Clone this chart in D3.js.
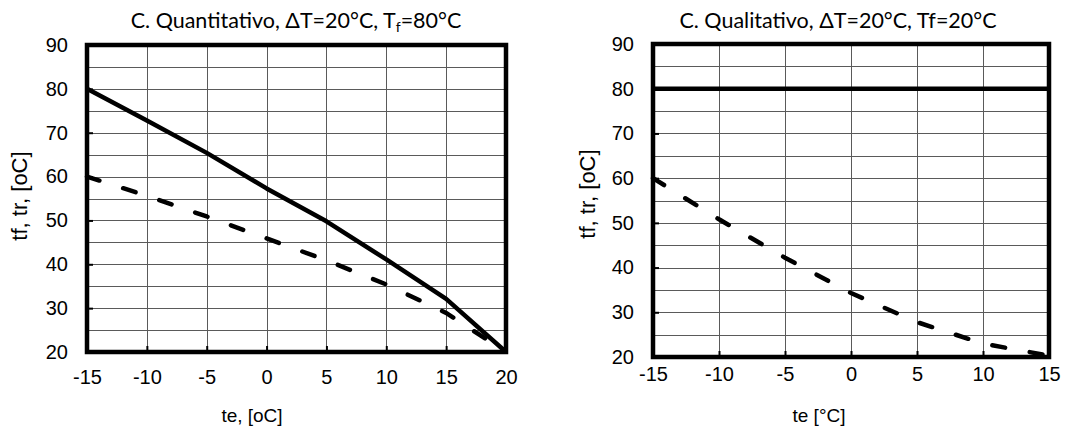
<!DOCTYPE html>
<html>
<head>
<meta charset="utf-8">
<script src="https://cdn.jsdelivr.net/npm/d3@7"></script>
<style>
  html, body { margin: 0; padding: 0; background: #fff; }
  svg { display: block; }
  .tick text { font-family: "Liberation Sans", Arial, sans-serif; font-size: 20px; fill: #000; }
  .title { font-family: Lato, "Open Sans", sans-serif; font-size: 21.5px; fill: #000; }
  .axis-label { font-family: "Liberation Sans", Arial, sans-serif; font-size: 19px; fill: #000; }
  .y-label { font-size: 22px; }
</style>
</head>
<body>
<svg id="chart" width="1071" height="436"></svg>
<script>
// Quantitative regulation: supply (tf) and return (tr) temperature vs outdoor temperature te
const teQuant = [-15, -10, -5, 0, 5, 10, 15, 20];
const tfQuant = [80, 72.8, 65.4, 57.3, 49.8, 41.1, 32.1, 20];
const trQuant = [60, 55.6, 50.9, 45.9, 40.9, 35.4, 28.9, 20];

// Qualitative regulation: supply stays constant, return drops
const teQual = [-15, -10, -5, 0, 5, 10, 15];
const tfQual = [80, 80, 80, 80, 80, 80, 80];
const trQual = [60, 50.8, 42.2, 34.3, 27.8, 23.0, 20.3];

const xTicksQuant = [-15, -10, -5, 0, 5, 10, 15, 20];
const xTicksQual = [-15, -10, -5, 0, 5, 10, 15];
const yTicks = [20, 30, 40, 50, 60, 70, 80, 90];
const yGrid = [25, 30, 35, 40, 45, 50, 55, 60, 65, 70, 75, 80, 85];

const svg = d3.select("#chart");
const plain = d => String(d);

function panel(cfg) {
  const x = d3.scaleLinear().domain(cfg.xDomain).range([cfg.left, cfg.right]);
  const y = d3.scaleLinear().domain([20, 90]).range([cfg.bottom, cfg.top]);
  const g = svg.append("g");

  // grid
  g.append("g")
    .attr("transform", `translate(0,${cfg.bottom})`)
    .call(d3.axisBottom(x).tickValues(cfg.xTicks).tickSize(-(cfg.bottom - cfg.top)).tickFormat(""))
    .call(s => s.select(".domain").remove())
    .call(s => s.selectAll(".tick line").attr("stroke", "#5a5a5a").attr("stroke-width", 1)
      .attr("shape-rendering", "crispEdges"));
  g.append("g")
    .attr("transform", `translate(${cfg.left},0)`)
    .call(d3.axisLeft(y).tickValues(yGrid).tickSize(-(cfg.right - cfg.left)).tickFormat(""))
    .call(s => s.select(".domain").remove())
    .call(s => s.selectAll(".tick line").attr("stroke", "#5a5a5a").attr("stroke-width", 1)
      .attr("shape-rendering", "crispEdges"));

  // inward tick marks
  g.append("g")
    .attr("transform", `translate(0,${cfg.bottom})`)
    .call(d3.axisBottom(x).tickValues(cfg.xTicks).tickSize(-6).tickFormat(""))
    .call(s => s.select(".domain").remove())
    .call(s => s.selectAll(".tick line").attr("stroke", "#000").attr("stroke-width", 2));
  g.append("g")
    .attr("transform", `translate(${cfg.left},0)`)
    .call(d3.axisLeft(y).tickValues(yTicks).tickSize(-6).tickFormat(""))
    .call(s => s.select(".domain").remove())
    .call(s => s.selectAll(".tick line").attr("stroke", "#000").attr("stroke-width", 2));

  // tick labels
  g.append("g")
    .attr("transform", `translate(0,${cfg.bottom})`)
    .call(d3.axisBottom(x).tickValues(cfg.xTicks).tickSize(0).tickPadding(cfg.xLabelPad).tickFormat(plain))
    .call(s => s.select(".domain").remove());
  g.append("g")
    .attr("transform", `translate(${cfg.left},0)`)
    .call(d3.axisLeft(y).tickValues(yTicks).tickSize(0).tickPadding(19).tickFormat(plain))
    .call(s => s.select(".domain").remove());

  // series
  const line = d3.line().x(d => x(d[0])).y(d => y(d[1]));
  g.append("path")
    .datum(cfg.te.map((t, i) => [t, cfg.tr[i]]))
    .attr("d", line)
    .attr("fill", "none").attr("stroke", "#000").attr("stroke-width", 4.5)
    .attr("stroke-dasharray", "13,25").attr("stroke-linecap", "round");
  g.append("path")
    .datum(cfg.te.map((t, i) => [t, cfg.tf[i]]))
    .attr("d", line)
    .attr("fill", "none").attr("stroke", "#000").attr("stroke-width", 4.5)
    .attr("stroke-linejoin", "round");

  // frame
  g.append("rect")
    .attr("x", cfg.left).attr("y", cfg.top)
    .attr("width", cfg.right - cfg.left).attr("height", cfg.bottom - cfg.top)
    .attr("fill", "none").attr("stroke", "#000").attr("stroke-width", 4.5);

  // titles
  const title = g.append("text").attr("class", "title")
    .attr("x", cfg.titleX).attr("y", 28).attr("text-anchor", "middle");
  cfg.title(title);

  g.append("text").attr("class", "axis-label")
    .attr("x", cfg.xLabelX).attr("y", 422).attr("text-anchor", "middle")
    .text(cfg.xLabel);
  g.append("text").attr("class", "axis-label y-label")
    .attr("transform", `translate(${cfg.yLabelX},${cfg.yLabelY}) rotate(-90)`)
    .attr("text-anchor", "middle")
    .text("tf, tr, [oC]");
}

panel({
  xDomain: [-15, 20], xTicks: xTicksQuant,
  left: 87, right: 506, top: 45, bottom: 352,
  te: teQuant, tf: tfQuant, tr: trQuant,
  xLabelPad: 18,
  titleX: 296,
  title: t => {
    t.append("tspan").text("C. Quantitativo, \u0394T=20\u00b0C, T");
    t.append("tspan").attr("font-size", "14px").attr("dy", 4).text("f");
    t.append("tspan").attr("dy", -4).text("=80\u00b0C");
  },
  xLabel: "te, [oC]", xLabelX: 252,
  yLabelX: 27, yLabelY: 196
});

panel({
  xDomain: [-15, 15], xTicks: xTicksQual,
  left: 653, right: 1049, top: 44, bottom: 357,
  te: teQual, tf: tfQual, tr: trQual,
  xLabelPad: 10,
  titleX: 838,
  title: t => t.text("C. Qualitativo, \u0394T=20\u00b0C, Tf=20\u00b0C"),
  xLabel: "te [\u00b0C]", xLabelX: 819,
  yLabelX: 595, yLabelY: 194
});
</script>
</body>
</html>
